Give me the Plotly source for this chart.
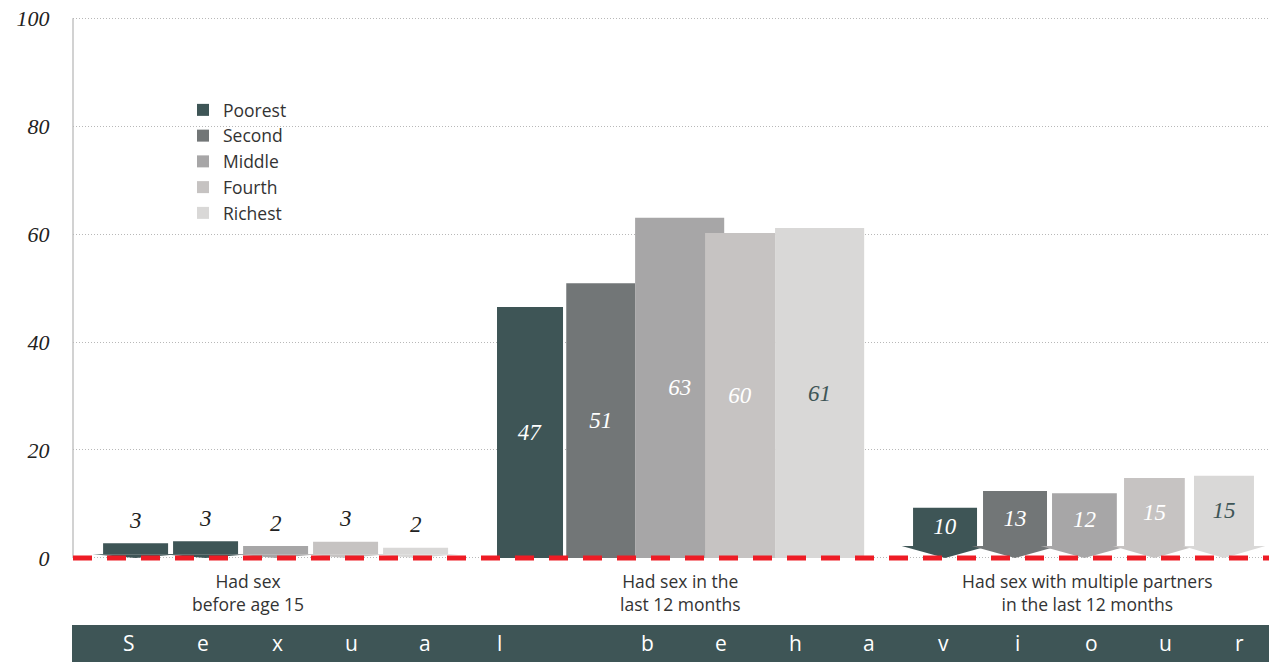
import plotly.graph_objects as go

# ---------------- data ----------------
categories = ["Had sex<br>before age 15",
              "Had sex in the<br>last 12 months",
              "Had sex with multiple partners<br>in the last 12 months"]
series = ["Poorest", "Second", "Middle", "Fourth", "Richest"]

poorest = [2.7, 46.5, 9.3]
second = [3.1, 50.9, 12.4]
middle = [2.2, 63.0, 12.0]
fourth = [3.0, 60.2, 14.8]
richest = [1.9, 61.1, 15.2]

labels_poorest = ["3", "47", "10"]
labels_second = ["3", "51", "13"]
labels_middle = ["2", "63", "12"]
labels_fourth = ["3", "60", "15"]
labels_richest = ["2", "61", "15"]

y_ticks = [0, 20, 40, 60, 80, 100]
banner_text = "Sexual behaviour"

values = [poorest, second, middle, fourth, richest]
labels = [labels_poorest, labels_second, labels_middle, labels_fourth, labels_richest]

# ---------------- styles / layout constants ----------------
TEAL = "#3e5556"
colors = ["#3e5556", "#727677", "#a7a6a7", "#c6c3c2", "#d9d8d7"]
# the reference paints the "Second" bar of the first group in teal
bar_colors = [[c, c, c] for c in colors]
bar_colors[1][0] = TEAL
inside_text_colors = ["#ffffff", "#ffffff", "#ffffff", "#ffffff", TEAL]

# bar offsets / widths in x-axis units (group centres at 0, 1, 2)
offsets = [
    [-0.4247, -0.452, -0.4247],
    [-0.2519, -0.281, -0.2519],
    [-0.0790, -0.111, -0.0815],
    [0.0938, 0.0617, 0.0963],
    [0.2667, 0.2346, 0.2691],
]
widths = [
    [0.1605, 0.163, 0.158],
    [0.1605, 0.170, 0.158],
    [0.1605, 0.220, 0.160],
    [0.1605, 0.173, 0.150],
    [0.1605, 0.220, 0.148],
]
head_h = [0.7, 0.0, 2.2]          # arrow-head height per group (y units)
head_extra = [0.026, 0.0, 0.028]  # arrow-head overhang per side (x units)

SERIF = "Liberation Serif"
SANS = "Open Sans"

# page geometry (the html body adds an 8px margin around the figure)
Y_MIN, Y_MAX = -1.5, 100.4
PX_PER_UNIT = 5.4
PAGE_OFF = 8
REF_B = 566                                   # plot bottom in page pixels
REF_T = REF_B - (Y_MAX - Y_MIN) * PX_PER_UNIT  # plot top in page pixels
REF_L, REF_R = 73, 1277
ML, MT = REF_L - PAGE_OFF, int(round(REF_T - PAGE_OFF))
pw = REF_R - REF_L
ph = REF_B - (MT + PAGE_OFF)
W = ML + pw
H = 662 - PAGE_OFF
MB = H - (MT + ph)
MR = 0


def px_x(p):
    return (p - REF_L) / pw


def px_y(p):
    return (REF_B - p) / ph


fig = go.Figure()

# draw the middle group first so the legend swatch takes its colour
order = [1, 0, 2]
for i, name in enumerate(series):
    vals = values[i]
    fig.add_trace(go.Bar(
        x=order,
        y=[vals[g] - head_h[g] for g in order],
        base=[head_h[g] for g in order],
        offset=[offsets[i][g] for g in order],
        width=[widths[i][g] for g in order],
        name=name,
        marker=dict(color=[bar_colors[i][g] for g in order], line=dict(width=0)),
        text=[labels[i][g] if g > 0 else "" for g in order],
        textposition=["inside" if g > 0 else "none" for g in order],
        insidetextanchor="middle",
        textangle=0,
        textfont=dict(family=SERIF, size=23, style="italic",
                      color=inside_text_colors[i]),
        hoverinfo="skip",
    ))

# arrow heads (groups 1 and 3)
for i, name in enumerate(series):
    for g in (0, 2):
        cx = g + offsets[i][g] + widths[i][g] / 2
        hw = widths[i][g] / 2 + head_extra[g]
        fig.add_trace(go.Scatter(
            x=[cx - hw, cx + hw, cx, cx - hw],
            y=[head_h[g], head_h[g], 0, head_h[g]],
            mode="lines", fill="toself", fillcolor=bar_colors[i][g],
            line=dict(width=0, color=bar_colors[i][g]),
            showlegend=False, hoverinfo="skip",
        ))

annotations = []
# labels above first group bars
for i in range(5):
    cx = 0 + offsets[i][0] + widths[i][0] / 2
    annotations.append(dict(
        x=cx, y=values[i][0], xref="x", yref="y",
        text=labels[i][0], showarrow=False, yanchor="middle", yshift=23,
        font=dict(family=SERIF, size=23, style="italic", color="#222222"),
    ))

# category labels
cat_shift = [-27, 0, 2]
for g, cat in enumerate(categories):
    annotations.append(dict(
        x=g, y=0, xref="x", yref="paper", text=cat, showarrow=False,
        yanchor="top", xanchor="center", xshift=cat_shift[g], yshift=-1,
        font=dict(family=SANS, size=17.5, color="#333333"),
    ))

# banner letters
for k, ch in enumerate(banner_text):
    if ch == " ":
        continue
    annotations.append(dict(
        x=px_x(129 + 74 * k), y=px_y(643), xref="paper", yref="paper",
        text=ch, showarrow=False, xanchor="center", yanchor="middle",
        font=dict(family=SANS, size=21, color="#ffffff"),
    ))

shapes = [
    # y axis line
    dict(type="line", xref="paper", yref="y", x0=0, x1=0, y0=0, y1=100,
         line=dict(color="#d2d2d2", width=2), layer="below"),
    # red dashed baseline
    dict(type="line", xref="paper", yref="y", x0=0, x1=1, y0=0, y1=0,
         line=dict(color="#ee1c25", width=5, dash="19px,15px"), layer="above"),
    # banner
    dict(type="rect", xref="paper", yref="paper", x0=px_x(72), x1=1,
         y0=px_y(670), y1=px_y(625),
         fillcolor=TEAL, line=dict(width=0), layer="below"),
]

fig.update_layout(
    width=W, height=H,
    margin=dict(l=ML, r=MR, t=MT, b=MB, autoexpand=False),
    paper_bgcolor="white", plot_bgcolor="white",
    barmode="overlay",
    showlegend=True,
    legend=dict(x=px_x(183), y=px_y(92), xanchor="left", yanchor="top",
                bgcolor="rgba(0,0,0,0)", font=dict(family=SANS, size=17.5, color="#333333"),
                traceorder="normal"),
    xaxis=dict(range=[-0.499, 2.474], showgrid=False, zeroline=False,
               showticklabels=False, showline=False, ticks=""),
    yaxis=dict(range=[Y_MIN, Y_MAX], tickvals=y_ticks, showgrid=True,
               gridcolor="#b8b8b8", griddash="1px,2px", gridwidth=1, zeroline=False,
               showline=False, ticks="outside", ticklen=18,
               tickcolor="rgba(0,0,0,0)", ticklabeloverflow="allow",
               tickfont=dict(family=SERIF, size=22, style="italic", color="#222222")),
    annotations=annotations,
    shapes=shapes,
)

fig.write_html("out.html")
